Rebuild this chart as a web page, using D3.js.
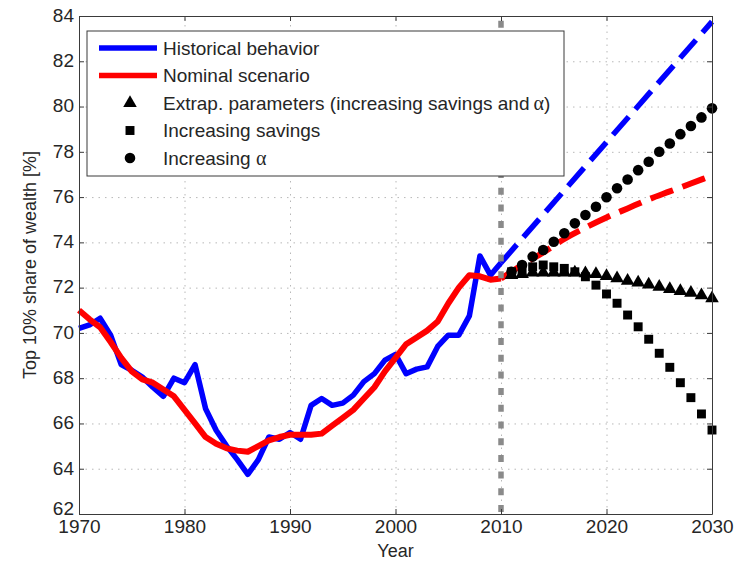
<!DOCTYPE html>
<html>
<head>
<meta charset="utf-8">
<script src="https://cdnjs.cloudflare.com/ajax/libs/d3/7.8.5/d3.min.js"></script>
<style>
    html, body { margin: 0; padding: 0; background: #fff; }
    svg { display: block; font-family: "Liberation Sans", Arial, sans-serif; }
    .axis text { fill: #262626; font-size: 19px; }
    .axis path, .axis line { stroke: #3a3a3a; }
</style>
</head>
<body>
<div id="chart"></div>
<script>
'use strict';

// Historical data 1970 - 2010
var histYears = [1970, 1971, 1972, 1973, 1974, 1975, 1976, 1977, 1978, 1979,
                 1980, 1981, 1982, 1983, 1984, 1985, 1986, 1987, 1988, 1989,
                 1990, 1991, 1992, 1993, 1994, 1995, 1996, 1997, 1998, 1999,
                 2000, 2001, 2002, 2003, 2004, 2005, 2006, 2007, 2008, 2009, 2010];

var historical = [70.2, 70.35, 70.65, 69.9, 68.6, 68.35, 68.05, 67.6, 67.2, 68.0,
                  67.8, 68.6, 66.65, 65.7, 65.0, 64.4, 63.75, 64.4, 65.4, 65.3,
                  65.6, 65.3, 66.8, 67.1, 66.8, 66.9, 67.25, 67.85, 68.2, 68.8,
                  69.05, 68.2, 68.4, 68.5, 69.4, 69.9, 69.9, 70.75, 73.4, 72.55, 73.1];

var nominal = [71.0, 70.6, 70.25, 69.6, 68.9, 68.3, 67.95, 67.8, 67.5, 67.2,
               66.6, 66.0, 65.4, 65.1, 64.9, 64.8, 64.75, 65.0, 65.25, 65.4,
               65.5, 65.5, 65.5, 65.55, 65.9, 66.25, 66.6, 67.1, 67.6, 68.3,
               68.9, 69.5, 69.8, 70.1, 70.5, 71.3, 72.0, 72.55, 72.5, 72.35, 72.4];

// Projections 2010 - 2030
var histTrendYears = [2010, 2030];
var histTrend = [73.1, 83.75];

var nominalProjYears = [2010, 2012, 2014, 2016, 2018, 2020, 2022, 2024, 2026, 2028, 2030];
var nominalProj = [72.4, 73.0, 73.55, 74.15, 74.65, 75.1, 75.5, 75.9, 76.25, 76.6, 76.95];

var scenarioYears = [2011, 2012, 2013, 2014, 2015, 2016, 2017, 2018, 2019, 2020,
                     2021, 2022, 2023, 2024, 2025, 2026, 2027, 2028, 2029, 2030];

var extrapolated = [72.56, 72.6, 72.66, 72.66, 72.66, 72.66, 72.66, 72.63, 72.6, 72.51,
                    72.41, 72.3, 72.22, 72.13, 72.04, 71.94, 71.85, 71.77, 71.66, 71.53];

var incSavings = [72.7, 72.78, 72.92, 73.0, 72.92, 72.85, 72.7, 72.48, 72.11, 71.72,
                  71.31, 70.79, 70.27, 69.72, 69.1, 68.48, 67.8, 67.14, 66.42, 65.71];

var incAlpha = [72.7, 73.0, 73.37, 73.66, 74.03, 74.4, 74.84, 75.21, 75.57, 75.99,
                76.39, 76.78, 77.19, 77.56, 78.0, 78.37, 78.78, 79.14, 79.52, 79.92];

var xTicks = [1970, 1980, 1990, 2000, 2010, 2020, 2030];
var yTicks = [62, 64, 66, 68, 70, 72, 74, 76, 78, 80, 82, 84];
var splitYear = 2010;

var legendItems = [
    {label: 'Historical behavior', type: 'line', color: '#0000ff'},
    {label: 'Nominal scenario', type: 'line', color: '#ff0000'},
    {label: 'Extrap. parameters (increasing savings and', alpha: ')', type: d3.symbolTriangle, size: 80},
    {label: 'Increasing savings', type: d3.symbolSquare, size: 80},
    {label: 'Increasing ', alpha: '', type: d3.symbolCircle, size: 88}
];

var width = 751,
    height = 563,
    margin = {top: 16, right: 39, bottom: 49, left: 79},
    innerW = width - margin.left - margin.right,
    innerH = height - margin.top - margin.bottom;

var svg = d3.select('#chart').append('svg')
    .attr('width', width)
    .attr('height', height);

var vis = svg.append('g')
    .attr('transform', 'translate(' + margin.left + ',' + margin.top + ')');

var x = d3.scaleLinear().domain([1970, 2030]).range([0, innerW]);
var y = d3.scaleLinear().domain([62, 84]).range([innerH, 0]);

// Dotted grid.
vis.append('g')
    .attr('class', 'grid')
    .call(d3.axisLeft(y).tickValues(yTicks).tickSize(-innerW).tickFormat(''));
vis.append('g')
    .attr('class', 'grid')
    .attr('transform', 'translate(0,' + innerH + ')')
    .call(d3.axisBottom(x).tickValues(xTicks).tickSize(-innerH).tickFormat(''));
vis.selectAll('.grid path').remove();
vis.selectAll('.grid line').attr('stroke', '#b8b8b8').attr('stroke-dasharray', '1.5,5');

var line = d3.line()
    .x(function (d) { return x(d[0]); })
    .y(function (d) { return y(d[1]); });

function pairs(xs, ys) {
    return xs.map(function (v, i) { return [v, ys[i]]; });
}

// Solid historical curves.
vis.append('path')
    .datum(pairs(histYears, historical))
    .attr('d', line)
    .attr('fill', 'none')
    .attr('stroke', '#0000ff')
    .attr('stroke-width', 5.5)
    .attr('stroke-linejoin', 'round');

vis.append('path')
    .datum(pairs(histYears, nominal))
    .attr('d', line)
    .attr('fill', 'none')
    .attr('stroke', '#ff0000')
    .attr('stroke-width', 6)
    .attr('stroke-linejoin', 'round');

// Dashed projections.
vis.append('path')
    .datum(pairs(histTrendYears, histTrend))
    .attr('d', line)
    .attr('fill', 'none')
    .attr('stroke', '#0000ff')
    .attr('stroke-width', 5.5)
    .attr('stroke-dasharray', '24,10');

vis.append('path')
    .datum(pairs(nominalProjYears, nominalProj))
    .attr('d', d3.line().curve(d3.curveMonotoneX).x(line.x()).y(line.y()))
    .attr('fill', 'none')
    .attr('stroke', '#ff0000')
    .attr('stroke-width', 6)
    .attr('stroke-dasharray', '24,10');

// Scenario markers.
function drawMarkers(values, type, size) {
    vis.append('g').selectAll('path')
        .data(pairs(scenarioYears, values))
        .enter().append('path')
        .attr('transform', function (d) {
            return 'translate(' + x(d[0]) + ',' + y(d[1]) + ')';
        })
        .attr('d', d3.symbol().type(type).size(size))
        .attr('fill', '#000');
}

drawMarkers(extrapolated, d3.symbolTriangle, 80);
drawMarkers(incSavings, d3.symbolSquare, 80);
drawMarkers(incAlpha, d3.symbolCircle, 88);

// 2010 separator.
vis.append('line')
    .attr('x1', x(splitYear))
    .attr('x2', x(splitYear))
    .attr('y1', y(62))
    .attr('y2', y(84))
    .attr('stroke', '#8a8a8a')
    .attr('stroke-width', 5.5)
    .attr('stroke-dasharray', '7,9.7')
    .attr('stroke-dashoffset', -2);

// Axes with inside ticks on all four sides.
vis.append('g')
    .attr('class', 'axis')
    .call(d3.axisLeft(y).tickValues(yTicks).tickSizeInner(-5).tickSizeOuter(0).tickPadding(5))
    .selectAll('text').attr('dy', function (d) {
        // the lowest label sits a little higher so it clears the year labels
        return d === 62 ? '0.02em' : '0.28em';
    });

vis.append('g')
    .attr('class', 'axis')
    .attr('transform', 'translate(' + innerW + ',0)')
    .call(d3.axisRight(y).tickValues(yTicks).tickSizeInner(-5).tickSizeOuter(0).tickFormat(''));

vis.append('g')
    .attr('class', 'axis')
    .attr('transform', 'translate(0,' + innerH + ')')
    .call(d3.axisBottom(x).tickValues(xTicks).tickSizeInner(-5).tickSizeOuter(0).tickPadding(6).tickFormat(d3.format('d')));

vis.append('g')
    .attr('class', 'axis')
    .call(d3.axisTop(x).tickValues(xTicks).tickSizeInner(-5).tickSizeOuter(0).tickFormat(''));

vis.selectAll('.axis .domain').attr('stroke', '#3a3a3a');

// Axis titles.
vis.append('text')
    .attr('x', innerW / 2)
    .attr('y', innerH + 43)
    .attr('text-anchor', 'middle')
    .attr('fill', '#262626')
    .style('font-size', '18px')
    .text('Year');

vis.append('text')
    .attr('transform', 'translate(' + (-43) + ',' + (innerH / 2) + ') rotate(-90)')
    .attr('text-anchor', 'middle')
    .attr('fill', '#262626')
    .style('font-size', '18px')
    .text('Top 10% share of wealth [%]');

// Legend.
var legend = vis.append('g')
    .attr('transform', 'translate(8,15)');

legend.append('rect')
    .attr('width', 477)
    .attr('height', 145)
    .attr('fill', '#fff')
    .attr('stroke', '#3a3a3a')
    .attr('stroke-width', 1);

var rows = legend.selectAll('.legend-row')
    .data(legendItems)
    .enter().append('g')
    .attr('class', 'legend-row')
    .attr('transform', function (d, i) {
        return 'translate(0,' + (17 + i * 27.5) + ')';
    });

rows.each(function (d) {
    var row = d3.select(this);

    if (d.type === 'line') {
        row.append('line')
            .attr('x1', 12)
            .attr('x2', 70)
            .attr('stroke', d.color)
            .attr('stroke-width', 5.5);
    } else {
        row.append('path')
            .attr('transform', 'translate(43,0)')
            .attr('d', d3.symbol().type(d.type).size(d.size))
            .attr('fill', '#000');
    }

    var text = row.append('text')
        .attr('x', 76)
        .attr('dy', '0.36em')
        .attr('fill', '#262626')
        .style('font-size', '19px')
        .text(d.label);

    if (d.alpha !== undefined) {
        text.append('tspan')
            .attr('dx', d.alpha === ')' ? 4 : 0)
            .style('font-family', '"Liberation Serif", "DejaVu Serif", serif')
            .style('font-size', '20px')
            .text('\u03b1');
        if (d.alpha) {
            text.append('tspan').text(d.alpha);
        }
    }
});
</script>
</body>
</html>
